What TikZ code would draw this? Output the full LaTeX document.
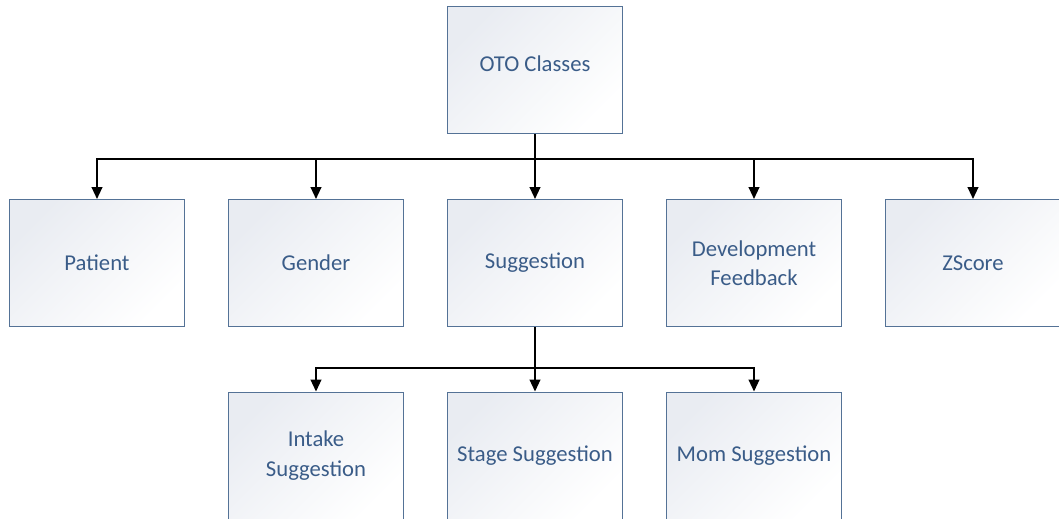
\documentclass[tikz,border=0pt]{standalone}
\usepackage{fontspec}
\setmainfont{Carlito}
\usetikzlibrary{shapes,arrows.meta}
\definecolor{boxtext}{RGB}{58,92,136}
\definecolor{boxline}{RGB}{84,114,150}
\definecolor{boxshade}{RGB}{233,236,242}
\tikzstyle{block} = [rectangle, draw=boxline, line width=0.75pt, top color=boxshade, bottom color=white, shading angle=45, text=boxtext, text centered, align=center, minimum width=131.25pt, minimum height=95.25pt, inner sep=0pt, font=\fontsize{17}{22}\selectfont, node distance=144.4pt]
\tikzstyle{line} = [draw, line width=1.5pt, -{Triangle[length=9pt,width=8pt]}]

\begin{document}
\begin{tikzpicture}[x=0.75pt,y=0.75pt]
\useasboundingbox (0,0) rectangle (1059,518);
\clip (0,0) rectangle (1059,518);

\node [block, text depth=11pt] (oto) at (535,447.5) {OTO Classes};

% second level
\node [block, below of=oto] (suggestion) {Suggestion};
\node [block, left of=suggestion, node distance=164.25pt] (gender) {Gender};
\node [block, left of=gender, node distance=164.25pt] (patient) {Patient};
\node [block, right of=suggestion, node distance=164.25pt] (feedback) {Development\\Feedback};
\node [block, right of=feedback, node distance=164.25pt] (zscore) {ZScore};

% third level
\node [block, below of=suggestion] (stage) {Stage Suggestion};
\node [block, left of=stage, node distance=164.25pt] (intake) {Intake\\Suggestion};
\node [block, right of=stage, node distance=164.25pt] (mom) {Mom Suggestion};

% arrows
\path [line] (oto.south) -- ++(0,-25) -| (patient.north);
\path [line] (oto.south) -- ++(0,-25) -| (gender.north);
\path [line] (oto.south) -- (suggestion.north);
\path [line] (oto.south) -- ++(0,-25) -| (feedback.north);
\path [line] (oto.south) -- ++(0,-25) -| (zscore.north);

\path [line] (suggestion.south) -- ++(0,-41) -| (intake.north);
\path [line] (suggestion.south) -- (stage.north);
\path [line] (suggestion.south) -- ++(0,-41) -| (mom.north);

\end{tikzpicture}
\end{document}
